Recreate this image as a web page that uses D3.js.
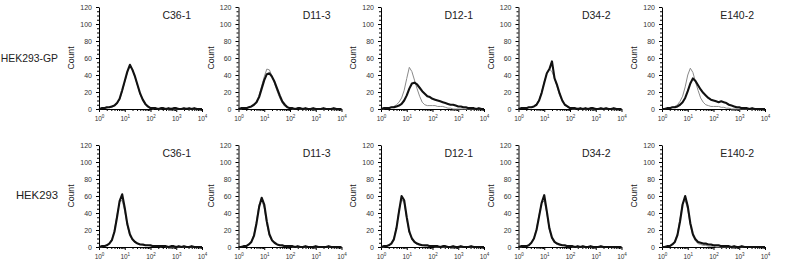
<!DOCTYPE html>
<html>
<head>
<meta charset="utf-8">
<script src="https://cdn.jsdelivr.net/npm/d3@7"></script>
<style>
  body { margin: 0; background: #fff; }
  svg { display: block; font-family: "Liberation Sans", Arial, sans-serif; }
</style>
</head>
<body>
<script>
// histogram bin positions, as log10 of fluorescence
let binLog = [0, 0.1, 0.2, 0.3, 0.4, 0.5, 0.6, 0.7, 0.8, 0.9, 1.0, 1.1, 1.2, 1.3, 1.4, 1.5, 1.6, 1.7, 1.8, 1.9, 2.0,
              2.1, 2.2, 2.3, 2.4, 2.5, 2.6, 2.7, 2.8, 2.9, 3.0, 3.1, 3.2, 3.3, 3.4, 3.5, 3.6, 3.7, 3.8, 3.9, 4.0];

let samples = ["C36-1", "D11-3", "D12-1", "D34-2", "E140-2"];
let cellLines = ["HEK293-GP", "HEK293"];
let yTicks = [0, 20, 40, 60, 80, 100, 120];
let xTicks = [1, 10, 100, 1000, 10000];

// HEK293-GP, antibody (thick black)
let gpStained = [
  [0,1,1,2,2,3,4,7,12,22,33,44,52,46,38,28,18,11,6,3,1,1,1,0,1,1,0,1,0,1,1,0,0,1,0,1,0,1,0,0,0],
  [0,1,1,1,2,3,5,8,14,24,34,41,42,38,32,24,16,9,5,2,1,1,0,1,1,0,1,0,0,1,0,0,0,1,0,0,0,1,0,0,0],
  [0,1,1,1,2,2,3,4,6,10,16,24,30,31,29,25,21,18,15,14,12,11,10,9,8,7,6,5,5,4,3,3,2,2,1,1,1,0,1,0,0],
  [0,1,1,1,2,2,3,5,10,19,31,42,47,56,36,28,18,10,5,3,1,1,1,0,1,0,1,0,1,1,0,0,1,0,1,0,0,1,0,0,0],
  [0,0,1,1,2,2,3,5,8,13,21,30,36,33,28,23,19,16,13,11,10,9,8,9,8,7,5,4,3,2,2,1,1,1,0,1,0,0,0,0,0]
];
// HEK293-GP, control (thin grey)
let gpControl = [
  [0,1,1,1,2,2,4,6,11,20,32,43,50,47,37,27,17,10,5,2,1,0,1,0,0,1,0,0,1,0,0,0,0,0,1,0,0,0,0,0,0],
  [0,0,1,1,2,3,5,9,16,27,38,47,46,39,30,21,13,7,3,2,1,0,0,1,0,0,0,0,0,0,0,0,0,0,0,0,0,0,0,0,0],
  [0,0,1,1,2,3,5,8,13,22,36,49,44,34,24,15,8,5,4,4,4,4,3,3,3,2,1,1,0,0,0,0,0,0,0,0,0,0,0,0,0],
  [0,1,1,1,2,2,3,6,11,20,32,42,47,44,36,26,16,9,5,2,1,0,0,1,0,0,0,0,0,0,0,0,0,0,0,0,0,0,0,0,0],
  [0,0,1,1,2,3,5,9,15,26,40,48,43,32,22,13,8,5,4,3,3,3,3,2,2,1,1,0,0,0,0,0,0,0,0,0,0,0,0,0,0]
];
// HEK293, antibody (thick black)
let hekStained = [
  [0,1,1,2,4,8,18,35,54,62,46,27,15,9,6,4,3,3,2,2,2,1,1,1,1,1,1,0,1,1,0,1,0,1,0,0,1,0,0,0,0],
  [0,0,1,1,3,6,13,28,47,58,50,30,15,8,5,3,2,2,1,1,1,1,0,1,0,0,1,0,0,0,1,0,0,0,0,1,0,0,0,0,0],
  [0,1,1,2,4,9,22,42,60,55,35,18,10,6,4,3,2,2,2,1,1,1,1,0,1,1,0,0,1,0,0,1,0,0,0,1,0,0,0,0,0],
  [0,1,1,1,2,5,10,20,36,52,61,42,22,11,6,4,3,2,2,1,1,1,0,1,0,1,0,0,1,0,0,0,1,0,0,0,0,0,0,0,0],
  [0,0,1,1,3,6,14,30,50,60,48,28,15,9,6,5,4,4,3,3,2,2,2,1,1,1,1,0,1,0,0,1,0,0,0,0,0,0,0,0,0]
];
// HEK293, control (thin grey)
let hekControl = [
  [0,0,1,2,4,9,20,38,53,55,42,25,13,8,5,4,3,2,2,2,1,1,1,1,0,1,0,0,0,0,0,0,0,0,0,0,0,0,0,0,0],
  [0,0,1,1,3,7,15,31,50,55,46,27,13,7,4,3,2,1,1,1,1,0,0,0,0,0,0,0,0,0,0,0,0,0,0,0,0,0,0,0,0],
  [0,0,1,2,4,10,24,44,56,52,33,17,9,5,3,2,2,1,1,1,1,0,0,0,0,0,0,0,0,0,0,0,0,0,0,0,0,0,0,0,0],
  [0,0,1,1,2,5,11,22,38,52,54,40,20,10,5,3,2,2,1,1,1,0,0,0,0,0,0,0,0,0,0,0,0,0,0,0,0,0,0,0,0],
  [0,0,1,1,3,7,16,33,52,55,44,26,13,7,4,3,2,2,1,1,1,0,0,0,0,0,0,0,0,0,0,0,0,0,0,0,0,0,0,0,0]
];

let rowData = [[gpControl, gpStained], [hekControl, hekStained]];

// layout
let panelLeft = [99, 238.5, 381, 518.5, 662];
let panelW = 103;
let rowTop = [7, 145];
let rowBottom = [109, 247];
let labelBase = [61.5, 199];

let svg = d3.select("body").append("svg")
    .attr("width", 785)
    .attr("height", 267);

svg.append("rect").attr("width", 785).attr("height", 267).attr("fill", "#fff");

let minorY = d3.range(0, 121, 5);
let minorX = [];
xTicks.slice(0, -1).forEach(d => { for (let k = 2; k < 10; k++) minorX.push(d * k); });

cellLines.forEach((line, r) => {
    svg.append("text")
        .attr("x", 58)
        .attr("y", labelBase[r])
        .attr("text-anchor", "end")
        .attr("font-size", r == 0 ? 10.4 : 11.3)
        .attr("fill", "#222")
        .text(line);

    samples.forEach((name, c) => {
        let x = d3.scaleLog().domain([1, 10000]).range([panelLeft[c], panelLeft[c] + panelW]);
        let y = d3.scaleLinear().domain([0, 120]).range([rowBottom[r], rowTop[r]]);
        let g = svg.append("g");

        // minor ticks
        g.append("g")
            .attr("transform", `translate(${panelLeft[c]},0)`)
            .call(d3.axisLeft(y).tickValues(minorY).tickSize(2).tickFormat(""))
            .call(a => a.select(".domain").remove());
        g.append("g")
            .attr("transform", `translate(0,${rowBottom[r]})`)
            .call(d3.axisBottom(x).tickValues(minorX).tickSize(2).tickFormat(""))
            .call(a => a.select(".domain").remove());

        // y axis
        let ya = g.append("g")
            .attr("transform", `translate(${panelLeft[c]},0)`)
            .call(d3.axisLeft(y).tickValues(yTicks).tickSize(3).tickSizeOuter(0).tickPadding(4));
        ya.selectAll("text").attr("font-size", 7).attr("fill", "#333");

        // x axis
        let xa = g.append("g")
            .attr("transform", `translate(0,${rowBottom[r]})`)
            .call(d3.axisBottom(x).tickValues(xTicks).tickSize(3).tickSizeOuter(0).tickPadding(4).tickFormat(""));
        xa.selectAll(".tick text").each(function(d) {
            let t = d3.select(this).attr("font-size", 6.5).attr("fill", "#333");
            t.append("tspan").text("10");
            t.append("tspan").attr("font-size", 4.5).attr("dy", -2.5).text(Math.round(Math.log10(d)));
        });
        g.selectAll(".domain, .tick line").attr("stroke", "#000");

        // y label
        svg.append("text")
            .attr("transform", `translate(${panelLeft[c] - 25},${(rowTop[r] + rowBottom[r]) / 2}) rotate(-90)`)
            .attr("text-anchor", "middle")
            .attr("font-size", 8.7)
            .attr("fill", "#222")
            .text("Count");

        // sample title
        svg.append("text")
            .attr("x", panelLeft[c] + panelW - 11)
            .attr("y", rowTop[r] + 12)
            .attr("text-anchor", "end")
            .attr("font-size", 10.5)
            .attr("fill", "#222")
            .text(name);

        let line = d3.line()
            .x((d, i) => x(Math.pow(10, binLog[i])))
            .y(d => y(d));

        g.append("path")
            .datum(rowData[r][0][c])
            .attr("d", line)
            .attr("fill", "none")
            .attr("stroke", "#8a8a8a")
            .attr("stroke-width", 1);

        g.append("path")
            .datum(rowData[r][1][c])
            .attr("d", line)
            .attr("fill", "none")
            .attr("stroke", "#111")
            .attr("stroke-width", 2.1)
            .attr("stroke-linejoin", "round");
    });
});
</script>
</body>
</html>
